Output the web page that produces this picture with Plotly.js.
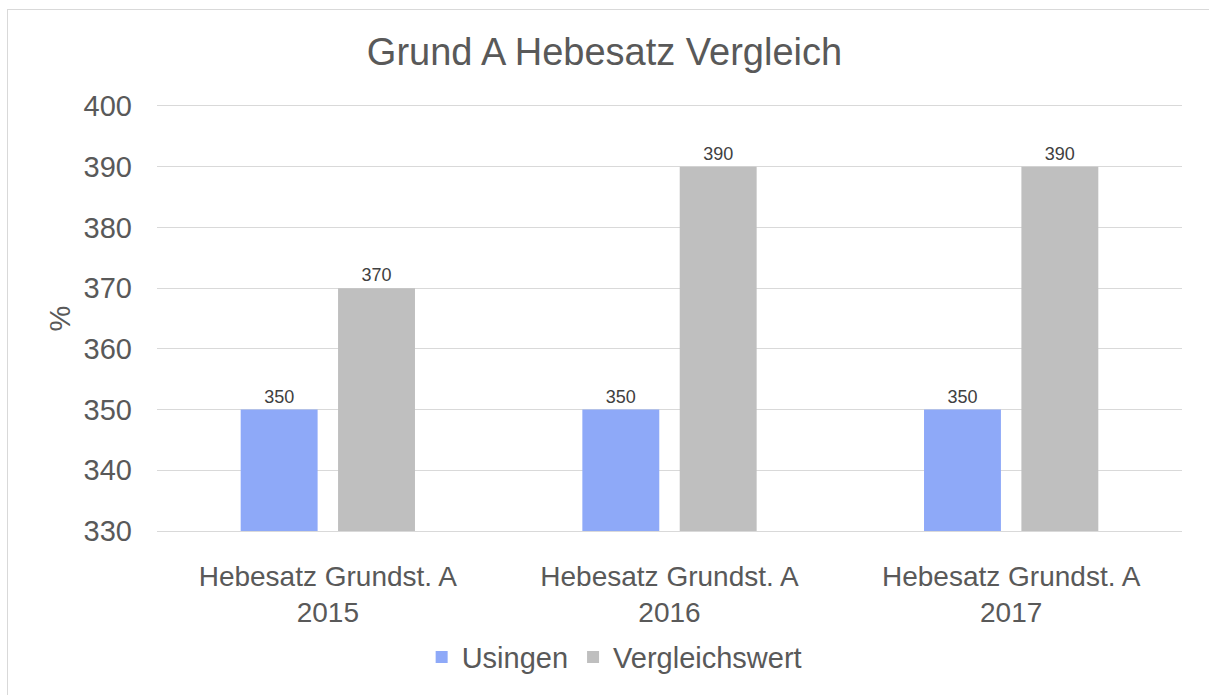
<!DOCTYPE html>
<html>
<head>
<meta charset="utf-8">
<script src="https://cdn.plot.ly/plotly-3.0.1.min.js"></script>
<style>
html,body{margin:0;padding:0;background:#fff;}
#wrap{position:relative;width:1209px;height:695px;overflow:hidden;}
#chart{position:absolute;left:0;top:0;width:1209px;height:695px;}
#frame{position:absolute;left:7px;top:9px;width:1210px;height:700px;border:1px solid #d9d9d9;pointer-events:none;box-sizing:border-box;}
</style>
</head>
<body>
<div id="wrap"><div id="chart"></div><div id="frame"></div></div>
<script>
const categories = ["Hebesatz Grundst. A<br>2015", "Hebesatz Grundst. A<br>2016", "Hebesatz Grundst. A<br>2017"];
const usingen = [350, 350, 350];
const vergleichswert = [370, 390, 390];
const seriesNames = ["Usingen", "Vergleichswert"];
const yTicks = [330, 340, 350, 360, 370, 380, 390, 400];

const font = "'Liberation Sans', Arial, sans-serif";
const traces = [
  {type:"bar", name:seriesNames[0], x:categories, y:usingen, marker:{color:"#8ea9f8"},
   text:usingen.map(String), textposition:"outside", cliponaxis:false,
   textfont:{size:18, color:"#404040", family:font}},
  {type:"bar", name:seriesNames[1], x:categories, y:vergleichswert, marker:{color:"#bfbfbf"},
   text:vergleichswert.map(String), textposition:"outside", cliponaxis:false,
   textfont:{size:18, color:"#404040", family:font}}
];
const layout = {
  width:1209, height:695,
  margin:{l:157, r:27, t:106, b:161},
  paper_bgcolor:"rgba(0,0,0,0)", plot_bgcolor:"#fff",
  font:{family:font, color:"#595959", size:28},
  title:{text:"Grund A Hebesatz Vergleich", font:{size:38, color:"#595959", family:font},
         x:0.5, xanchor:"center", y:1-52/695, yanchor:"middle", yref:"container"},
  barmode:"group", bargap:0.43, bargroupgap:0.21,
  xaxis:{type:"category", tickfont:{size:28, color:"#595959"}, showgrid:false,
         showline:true, mirror:true, linecolor:"#d9d9d9", linewidth:1, ticks:"",
         ticklabelstandoff:20},
  yaxis:{range:[330,400], tickvals:yTicks, ticktext:yTicks.map(String),
         tickfont:{size:29, color:"#595959"}, gridcolor:"#d9d9d9", gridwidth:1,
         zeroline:false, showline:false, ticks:"", ticklen:0, ticklabelstandoff:24,
         title:{text:"%", font:{size:29, color:"#595959"}, standoff:4}},
  showlegend:true,
  legend:{orientation:"h", x:0.446, xanchor:"center", y:-0.297, yanchor:"middle",
          font:{size:29, color:"#595959"}, itemwidth:30, traceorder:"normal"}
};
Plotly.newPlot("chart", traces, layout, {displayModeBar:false, staticPlot:true});
</script>
</body>
</html>
